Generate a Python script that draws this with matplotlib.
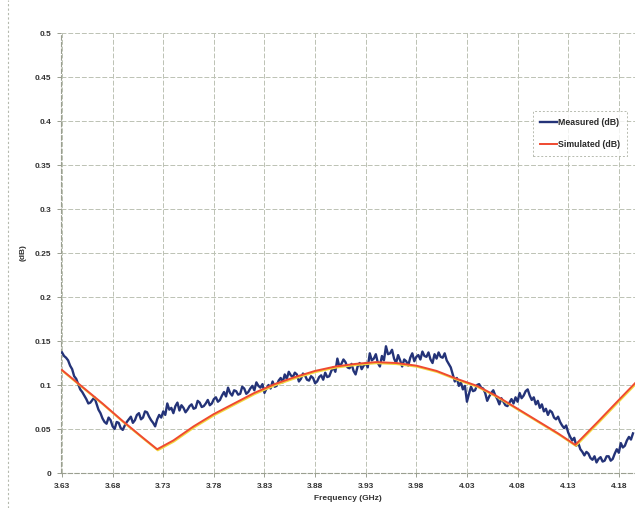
import numpy as np
import matplotlib
matplotlib.use("Agg")
import matplotlib.pyplot as plt
import matplotlib.transforms as mtransforms
from matplotlib.lines import Line2D

plt.rcParams['font.family'] = ['Liberation Sans', 'DejaVu Sans']

# ---------------- data ----------------
freq_start = 3.630
freq_step = 0.002
measured_db = [
    0.137, 0.133, 0.131, 0.128, 0.122, 0.118, 0.110, 0.107, 0.101, 0.095,
    0.092, 0.088, 0.084, 0.079, 0.080, 0.083, 0.086, 0.079, 0.072, 0.068,
    0.062, 0.058, 0.056, 0.063, 0.060, 0.053, 0.050, 0.058, 0.057, 0.051,
    0.049, 0.054, 0.058, 0.061, 0.064, 0.057, 0.060, 0.066, 0.068, 0.061,
    0.063, 0.070, 0.069, 0.064, 0.060, 0.057, 0.053, 0.061, 0.066, 0.063,
    0.070, 0.066, 0.079, 0.072, 0.074, 0.068, 0.076, 0.080, 0.071, 0.077,
    0.074, 0.069, 0.072, 0.076, 0.078, 0.073, 0.074, 0.082, 0.080, 0.075,
    0.076, 0.079, 0.083, 0.077, 0.079, 0.084, 0.086, 0.081, 0.083, 0.088,
    0.092, 0.087, 0.097, 0.091, 0.088, 0.094, 0.093, 0.089, 0.090, 0.098,
    0.096, 0.090, 0.092, 0.096, 0.099, 0.094, 0.103, 0.099, 0.097, 0.101,
    0.091, 0.096, 0.100, 0.096, 0.104, 0.098, 0.099, 0.105, 0.108, 0.103,
    0.112, 0.107, 0.115, 0.111, 0.109, 0.114, 0.112, 0.104, 0.107, 0.113,
    0.111, 0.106, 0.105, 0.110, 0.108, 0.102, 0.104, 0.109, 0.111, 0.106,
    0.114, 0.109, 0.110, 0.116, 0.120, 0.115, 0.130, 0.121, 0.124, 0.129,
    0.126, 0.120, 0.119, 0.124, 0.116, 0.112, 0.121, 0.125, 0.118, 0.122,
    0.125, 0.120, 0.136, 0.128, 0.130, 0.135, 0.125, 0.121, 0.133, 0.128,
    0.144, 0.135, 0.136, 0.140, 0.130, 0.125, 0.134, 0.128, 0.121, 0.129,
    0.127, 0.122, 0.131, 0.136, 0.127, 0.132, 0.134, 0.129, 0.138, 0.133,
    0.132, 0.137, 0.129, 0.125, 0.135, 0.130, 0.137, 0.132, 0.131, 0.136,
    0.128, 0.124, 0.120, 0.112, 0.104, 0.108, 0.099, 0.103, 0.095, 0.099,
    0.081, 0.090, 0.098, 0.093, 0.094, 0.100, 0.101, 0.097, 0.096, 0.091,
    0.082, 0.087, 0.091, 0.094, 0.088, 0.084, 0.078, 0.085, 0.081, 0.077,
    0.076, 0.080, 0.084, 0.079, 0.086, 0.081, 0.091, 0.085, 0.088, 0.093,
    0.095, 0.088, 0.083, 0.086, 0.078, 0.082, 0.074, 0.078, 0.070, 0.073,
    0.066, 0.071, 0.069, 0.063, 0.061, 0.064, 0.058, 0.054, 0.051, 0.054,
    0.046, 0.041, 0.037, 0.040, 0.031, 0.034, 0.027, 0.024, 0.020, 0.024,
    0.022, 0.017, 0.015, 0.019, 0.012, 0.016, 0.018, 0.013, 0.014, 0.019,
    0.019, 0.014, 0.016, 0.022, 0.027, 0.023, 0.034, 0.029, 0.031, 0.037,
    0.041, 0.038, 0.045,
]
measured_freq = freq_start + freq_step * np.arange(len(measured_db))

simulated_freq = [3.630, 3.650, 3.670, 3.690, 3.710, 3.724, 3.740, 3.760, 3.780,
                  3.800, 3.820, 3.840, 3.860, 3.880, 3.900, 3.920, 3.940, 3.960,
                  3.980, 4.000, 4.020, 4.040, 4.060, 4.080, 4.100, 4.120, 4.137,
                  4.160, 4.180, 4.196]
simulated_db = [0.117, 0.098, 0.079, 0.059, 0.040, 0.027, 0.037, 0.053, 0.067,
                0.079, 0.091, 0.101, 0.109, 0.116, 0.121, 0.124, 0.126, 0.125,
                0.122, 0.116, 0.107, 0.099, 0.087, 0.073, 0.059, 0.045, 0.032,
                0.059, 0.083, 0.102]

x_ticks = [3.63, 3.68, 3.73, 3.78, 3.83, 3.88, 3.93, 3.98, 4.03, 4.08, 4.13, 4.18]
x_tick_labels = ["3.63", "3.68", "3.73", "3.78", "3.83", "3.88", "3.93", "3.98",
                 "4.03", "4.08", "4.13", "4.18"]
y_ticks = [0, 0.05, 0.1, 0.15, 0.2, 0.25, 0.3, 0.35, 0.4, 0.45, 0.5]
y_tick_labels = ["0", "0.05", "0.1", "0.15", "0.2", "0.25", "0.3", "0.35", "0.4", "0.45", "0.5"]

# ---------------- figure ----------------
fig = plt.figure(figsize=(6.35, 5.08), dpi=100)
fig.patch.set_facecolor("white")
ax = fig.add_axes([61 / 635, 35 / 508, 1 - 61 / 635, (473 - 33) / 508])

grid_kw = dict(color="#bcc2b4", lw=0.7, ls=(0, (5, 2)), zorder=0)
for xt in x_ticks:
    ax.axvline(xt, **grid_kw)
for yt in y_ticks:
    ax.axhline(yt, **grid_kw)

ax.plot(measured_freq, measured_db, color="#243378", lw=1.7, zorder=3,
        label="Measured (dB)")
shift = mtransforms.offset_copy(ax.transData, fig=fig, x=0.6, y=-1.2, units="dots")
ax.plot(simulated_freq, simulated_db, color="#f2d840", lw=1.3, zorder=4,
        transform=shift)
ax.plot(simulated_freq, simulated_db, color="#ef4a30", lw=1.4, zorder=5,
        label="Simulated (dB)")

ax.set_xlim(3.629, 4.196)
ax.set_ylim(0, 0.5)
ax.set_xticks(x_ticks)
ax.set_xticklabels(x_tick_labels)
ax.set_yticks(y_ticks)
ax.set_yticklabels(y_tick_labels)
ax.tick_params(axis="both", labelsize=6, length=3, width=0.7, color="#9a9f90",
               labelcolor="#333333", pad=4)
for lbl in ax.get_xticklabels() + ax.get_yticklabels():
    lbl.set_fontweight("bold")

for side in ["top", "right"]:
    ax.spines[side].set_visible(False)
for side in ["left", "bottom"]:
    ax.spines[side].set_color("#9a9f90")
    ax.spines[side].set_linewidth(0.8)
    ax.spines[side].set_linestyle((0, (4, 2)))

ax.set_xlabel("Frequency (GHz)", fontsize=6, fontweight="bold", color="#333333",
              labelpad=4)
ax.set_ylabel("(dB)", fontsize=6, fontweight="bold", color="#333333", labelpad=6)

leg = ax.legend(loc="upper left", bbox_to_anchor=(0.822, 0.822), fontsize=6.3,
                frameon=True, fancybox=False, handlelength=2.0,
                borderpad=0.8, labelspacing=1.4, handletextpad=0.1,
                borderaxespad=0)
leg.get_frame().set_edgecolor("#a5aa9c")
leg.get_frame().set_linestyle((0, (2, 2)))
leg.get_frame().set_linewidth(0.7)
for t in leg.get_texts():
    t.set_fontweight("bold")
    t.set_color("#2a2a2a")

# outer chart frame (left dotted border)
fig.add_artist(Line2D([8 / 635, 8 / 635], [0, 1], transform=fig.transFigure,
                      color="#b5b9ae", lw=0.8, ls=(0, (2, 2))))

fig.savefig("out.png", dpi=100)
